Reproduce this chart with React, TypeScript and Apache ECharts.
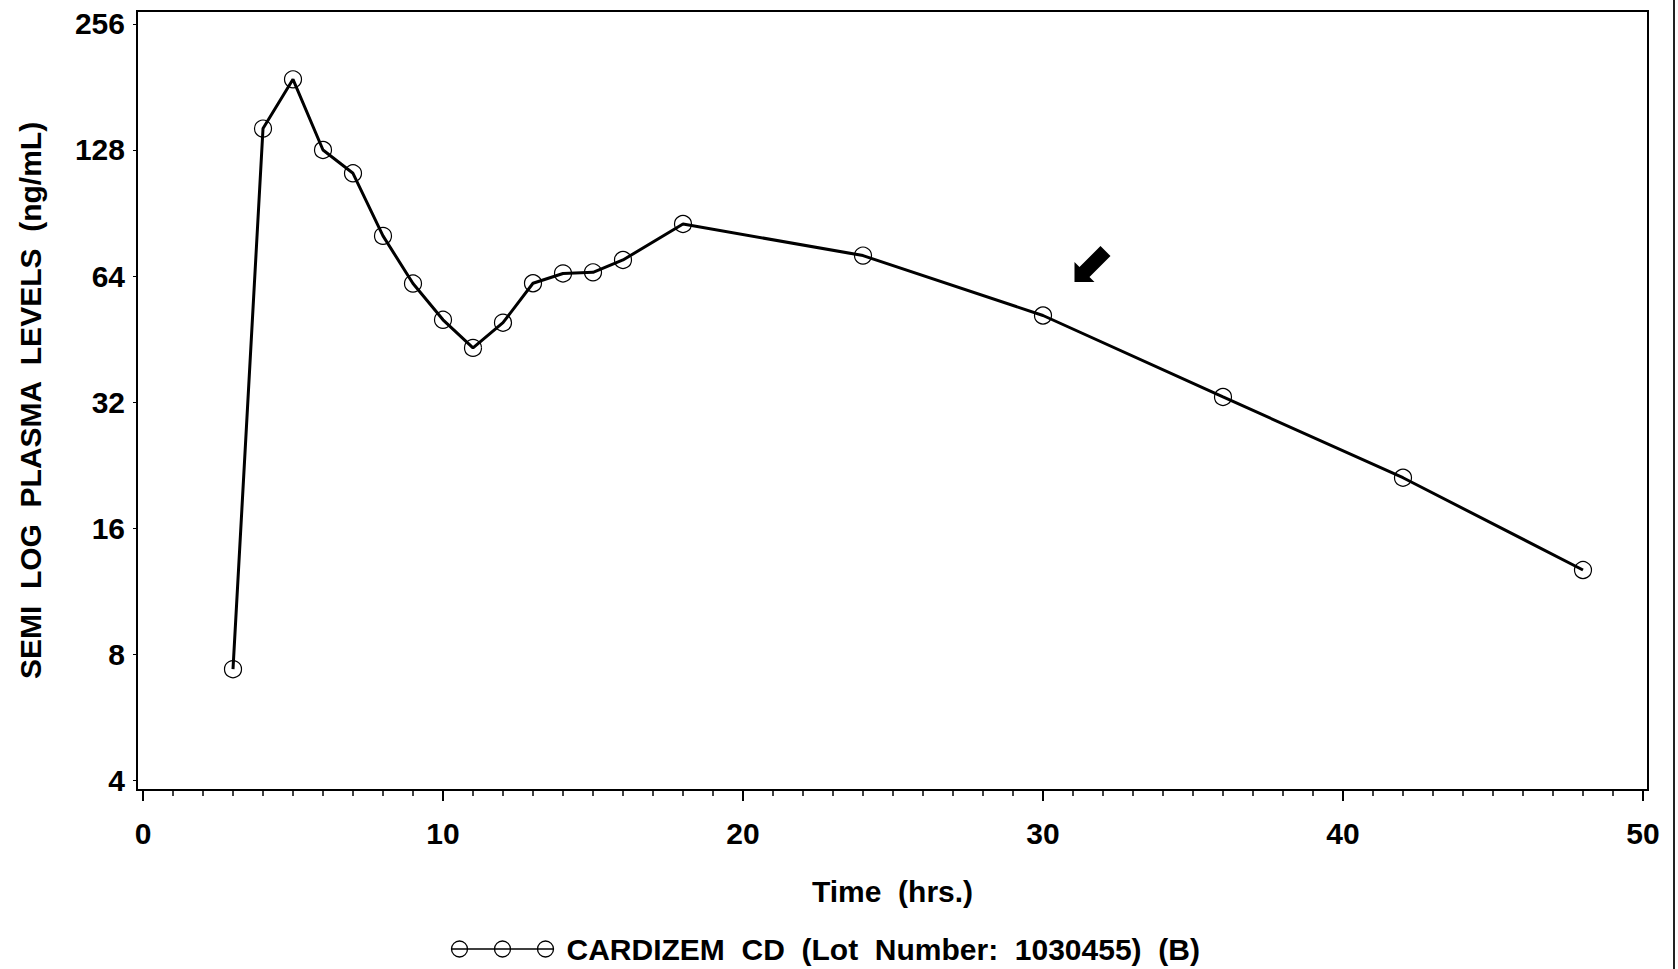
import React, { useEffect, useRef } from "react";
import * as echarts from "echarts";

const hours = [3, 4, 5, 6, 7, 8, 9, 10, 11, 12, 13, 14, 15, 16, 18, 24, 30, 36, 42, 48];
const plasma = [7.36, 144, 188.8, 128, 112.6, 79.8, 61.4, 50.3, 43.1, 49.5, 61.5, 64.9, 65.3, 69.9, 85.2, 71.6, 51.5, 32.9, 21.1, 12.7];
const xMajorTicks = [0, 10, 20, 30, 40, 50];
const xMinorTicks = Array.from({ length: 51 }, (_, i) => i);
const yTickLabels = [4, 8, 16, 32, 64, 128, 256];

const seriesName = "CARDIZEM  CD  (Lot  Number:  1030455)  (B)";
const FONT = "'Liberation Sans', Arial, Helvetica, sans-serif";

export default function App() {
  const ref = useRef<HTMLDivElement>(null);
  useEffect(() => {
    const chart = echarts.init(ref.current!, null, { renderer: "svg" });
    const yLog = yTickLabels.map((v) => Math.log2(v));
    const data = hours.map((h, i) => [h, Math.log2(plasma[i])]);
    const arrowPath = "path://M-19 19 L-19 -1 L-14 4 L7 -17 L17 -7 L-4 14 L1 19 Z";
    const legendIcon =
      "path://M0 9 L102 9 M0 9 A8 8 0 1 0 16 9 A8 8 0 1 0 0 9 M43 9 A8 8 0 1 0 59 9 A8 8 0 1 0 43 9 M86 9 A8 8 0 1 0 102 9 A8 8 0 1 0 86 9";
    const xMin = -0.2;
    const xMax = 50.167;
    chart.setOption({
      animation: false,
      backgroundColor: "#fff",
      textStyle: { fontFamily: FONT },
      grid: {
        left: 137,
        top: 11,
        right: 30,
        bottom: 179,
        show: true,
        borderColor: "#000",
        borderWidth: 2,
        backgroundColor: "transparent",
      },
      legend: {
        left: 449,
        top: 934,
        padding: 0,
        itemWidth: 102,
        itemHeight: 18,
        icon: legendIcon,
        itemStyle: { color: "none", borderColor: "#000", borderWidth: 1.3 },
        textStyle: {
          fontFamily: FONT,
          fontWeight: "bold",
          fontSize: 30,
          color: "#000",
          padding: [0, 0, 0, 8],
        },
        data: [seriesName],
      },
      xAxis: [
        {
          type: "value",
          min: xMin,
          max: xMax,
          name: "Time  (hrs.)",
          nameLocation: "middle",
          nameGap: 86,
          nameTextStyle: { fontFamily: FONT, fontWeight: "bold", fontSize: 30, color: "#000" },
          axisLine: { show: true, onZero: false, lineStyle: { color: "#000", width: 2 } },
          axisTick: {
            show: true,
            customValues: xMajorTicks,
            length: 11,
            lineStyle: { color: "#000", width: 2 },
          },
          axisLabel: {
            customValues: xMajorTicks,
            margin: 28,
            fontFamily: FONT,
            fontWeight: "bold",
            fontSize: 30,
            color: "#000",
          },
          splitLine: { show: false },
        },
        {
          type: "value",
          position: "bottom",
          min: xMin,
          max: xMax,
          axisLine: { show: false },
          axisTick: {
            show: true,
            customValues: xMinorTicks,
            length: 6,
            lineStyle: { color: "#000", width: 1.5 },
          },
          axisLabel: { show: false },
          splitLine: { show: false },
        },
      ],
      yAxis: {
        type: "value",
        min: 1.921,
        max: 8.103,
        name: "SEMI  LOG  PLASMA  LEVELS  (ng/mL)",
        nameLocation: "middle",
        nameGap: 92,
        nameTextStyle: { fontFamily: FONT, fontWeight: "bold", fontSize: 30, color: "#000" },
        axisLine: { show: true, onZero: false, lineStyle: { color: "#000", width: 2 } },
        axisTick: { show: true, customValues: yLog, length: 4, lineStyle: { color: "#000", width: 1 } },
        axisLabel: {
          customValues: yLog,
          margin: 12,
          fontFamily: FONT,
          fontWeight: "bold",
          fontSize: 30,
          color: "#000",
          formatter: (v: number) => String(Math.round(Math.pow(2, v))),
        },
        splitLine: { show: false },
      },
      series: [
        {
          name: seriesName,
          type: "line",
          xAxisIndex: 0,
          data,
          symbol: "circle",
          symbolSize: 17,
          lineStyle: { color: "#000", width: 3 },
          itemStyle: { color: "rgba(0,0,0,0)", borderColor: "#000", borderWidth: 1.2 },
          markPoint: {
            silent: true,
            data: [
              {
                coord: [31.65, 6.095],
                symbol: arrowPath,
                symbolSize: [36, 36],
                itemStyle: { color: "#000" },
                label: { show: false },
              },
            ],
          },
        },
      ],
      graphic: [
        {
          type: "line",
          shape: { x1: 1674, y1: 0, x2: 1674, y2: 969 },
          style: { stroke: "#222", lineWidth: 2 },
        },
      ],
    });
    return () => chart.dispose();
  }, []);
  return (
    <div
      ref={ref}
      style={{ position: "absolute", left: 0, top: 0, width: 1678, height: 969 }}
    />
  );
}
